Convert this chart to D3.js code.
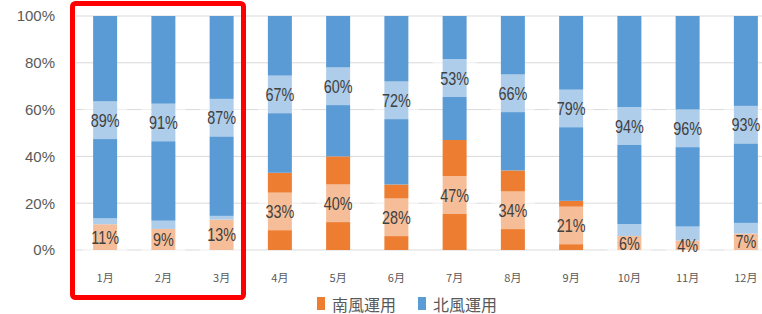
<!DOCTYPE html>
<html><head><meta charset="utf-8">
<script src="https://cdn.jsdelivr.net/npm/d3@7"></script>
<style>html,body{margin:0;padding:0;background:#fff;}svg{display:block;}</style>
</head><body>
<svg id="c" width="762" height="314"></svg>
<script>
const months = ["1月","2月","3月","4月","5月","6月","7月","8月","9月","10月","11月","12月"];
const southWind = [11,9,13,33,40,28,47,34,21,6,4,7];
const northWind = [89,91,87,67,60,72,53,66,79,94,96,93];
const yTicks = [0,20,40,60,80,100];
const seriesNames = ["南風運用","北風運用"];
const seriesColors = ["#ED7D31","#5B9BD5"];

const svg = d3.select("#c");
const x = d3.scaleBand().domain(months).range([76,775]).paddingInner(0.588).paddingOuter(0.294);
const y = d3.scaleLinear().domain([0,100]).range([250,16]);

// gridlines
svg.append("g").selectAll("line").data(yTicks).join("line")
  .attr("x1",76).attr("x2",762)
  .attr("y1",d=>y(d)).attr("y2",d=>y(d))
  .attr("stroke","#D9D9D9").attr("stroke-width",1);

// y axis labels
const yAxis = d3.axisLeft(y).tickValues(yTicks).tickFormat(d=>d+"%").tickSize(0).tickPadding(0);
const ya = svg.append("g").attr("transform","translate(55,0)").call(yAxis);
ya.select(".domain").remove();
ya.selectAll("text").attr("font-family","'Liberation Sans',Arial,sans-serif").attr("font-size",15).attr("fill","#595959");

// stacked data
const rows = months.map((m,i)=>({m, s:southWind[i], n:northWind[i]}));
const stack = d3.stack().keys(["s","n"])(rows);

const gBars = svg.append("g");
stack.forEach((layer,li)=>{
  gBars.append("g").selectAll("rect").data(layer).join("rect")
    .attr("x",d=>x(d.data.m)).attr("width",x.bandwidth())
    .attr("y",d=>y(d[1])).attr("height",d=>y(d[0])-y(d[1]))
    .attr("fill",seriesColors[li]);
});

// labels with semi-transparent boxes
const gLab = svg.append("g");
stack.forEach((layer,li)=>{
  layer.forEach(d=>{
    const cx = x(d.data.m)+x.bandwidth()/2;
    const cy = (y(d[0])+y(d[1]))/2;
    gLab.append("rect").attr("x",cx-22).attr("width",44)
      .attr("y",cy-19).attr("height",38)
      .attr("fill","#fff").attr("fill-opacity",0.5);
    gLab.append("text")
      .attr("transform",`translate(${cx},${cy}) scale(0.8,1)`)
      .attr("text-anchor","middle").attr("dominant-baseline","central")
      .attr("font-family","'Liberation Sans',Arial,sans-serif").attr("font-size",18)
      .attr("fill","#404040")
      .text((d[1]-d[0])+"%");
  });
});

// x labels
const xAxis = d3.axisBottom(x).tickSize(0).tickPadding(0);
const xa = svg.append("g").attr("transform","translate(0,277)").call(xAxis);
xa.select(".domain").remove();
xa.selectAll("text").attr("font-family","'Noto Sans CJK JP',sans-serif").attr("font-size",11)
  .attr("fill","#595959").attr("dy","0").attr("dominant-baseline","central");

// legend
const legX = [317,418];
const leg = svg.append("g");
seriesNames.forEach((name,i)=>{
  leg.append("rect").attr("x",legX[i]).attr("y",297).attr("width",8).attr("height",13).attr("fill",seriesColors[i]);
  leg.append("text").attr("x",legX[i]+15).attr("y",303.5).attr("dominant-baseline","central")
    .attr("font-family","'Noto Sans CJK JP',sans-serif").attr("font-size",16).attr("fill","#595959").text(name);
});

// red highlight rectangle
svg.append("rect").attr("x",72.5).attr("y",3.5).attr("width",171).attr("height",294)
  .attr("rx",3).attr("fill","none").attr("stroke","#FF0000").attr("stroke-width",5);
</script>
</body></html>
